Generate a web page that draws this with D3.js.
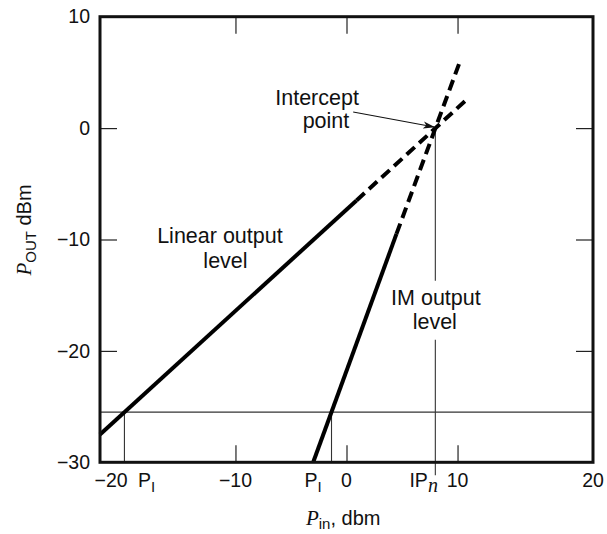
<!DOCTYPE html>
<html>
<head>
<meta charset="utf-8">
<script src="https://cdn.jsdelivr.net/npm/d3@7"></script>
<style>
  body { margin: 0; background: #fff; }
  text { font-family: "Liberation Sans", Arial, sans-serif; fill: #111; }
  .tick-label { font-size: 19.5px; }
  .note { font-size: 21.5px; }
  .ital { font-family: "Liberation Serif", "Times New Roman", serif; font-style: italic; }
</style>
</head>
<body>
<div id="chart"></div>
<script>
// chart values (dBm)
const xDomain = [-22.2, 22.2];
const yDomain = [-30, 10];
const yTicks = [10, 0, -10, -20, -30];
const yInnerTicks = [0, -10, -20];
const xInnerTicks = [-10, 0, 10];
const xTickLabels = ["\u221220", "\u221210", "0", "10", "20"];
const xTickLabelAt = [-21.2, -10, 0, 10, 22.2];

// linear output level (slope ~0.9), solid then dashed extrapolation
const linearSolidX = [-22.2, 0.9];
const linearSolidY = [-27.5, -6.5];
const linearDashX = [0.9, 10.75];
const linearDashY = [-6.5, 2.5];

// IM output level (slope ~2.7)
const imSolidX = [-3.0, 4.5];
const imSolidY = [-30, -9.5];
const imDashX = [4.5, 10.15];
const imDashY = [-9.5, 5.8];

const refLevel = -25.5;      // horizontal reference line
const piLinear = -20;        // P_I where linear line meets reference
const piIM = -1.35;          // P_I where IM line meets reference
const ipN = 8;               // intercept point input
const ipOut = 0;             // intercept point output

// set the dimensions and margins of the graph
const margin = {top: 16.7, right: 14, bottom: 71.7, left: 100},
    width = 607 - margin.left - margin.right,
    height = 534 - margin.top - margin.bottom;

const svg = d3.select("#chart")
  .append("svg")
    .attr("width", width + margin.left + margin.right)
    .attr("height", height + margin.top + margin.bottom)
  .append("g")
    .attr("transform", `translate(${margin.left},${margin.top})`);

const x = d3.scaleLinear().domain(xDomain).range([0, width]);
const y = d3.scaleLinear().domain(yDomain).range([height, 0]);

// arrow marker
svg.append("defs").append("marker")
    .attr("id", "arrow")
    .attr("viewBox", "0 -5 12 10")
    .attr("refX", 11)
    .attr("refY", 0)
    .attr("markerWidth", 12)
    .attr("markerHeight", 10)
    .attr("markerUnits", "userSpaceOnUse")
    .attr("orient", "auto")
  .append("path")
    .attr("d", "M0,-3.5L12,0L0,3.5L3,0Z")
    .attr("fill", "#111");

// inner tick marks
function inner(g) {
  g.select(".domain").remove();
  g.selectAll(".tick line").attr("stroke", "#222").attr("stroke-width", 1.2);
  g.selectAll(".tick text").remove();
}
svg.append("g").attr("transform", `translate(0,${height})`)
  .call(d3.axisBottom(x).tickValues(xInnerTicks).tickSize(-17)).call(inner);
svg.append("g")
  .call(d3.axisTop(x).tickValues(xInnerTicks).tickSize(-17)).call(inner);
svg.append("g")
  .call(d3.axisLeft(y).tickValues(yInnerTicks).tickSize(-17)).call(inner);
svg.append("g").attr("transform", `translate(${width},0)`)
  .call(d3.axisRight(y).tickValues(yInnerTicks).tickSize(-17)).call(inner);

// y tick labels
const yLab = svg.append("g")
  .call(d3.axisLeft(y).tickValues(yTicks).tickSize(0).tickPadding(10));
yLab.select(".domain").remove();
yLab.selectAll("text").attr("class", "tick-label").attr("font-family", null).attr("font-size", null).attr("fill", null);

// x tick labels
svg.append("g").selectAll("text")
  .data(xTickLabels)
  .join("text")
    .attr("class", "tick-label")
    .attr("x", (d, i) => x(xTickLabelAt[i]))
    .attr("y", height + 25)
    .attr("text-anchor", "middle")
    .text(d => d);

// thin reference lines
const thin = svg.append("g").attr("stroke", "#333").attr("stroke-width", 1.1).attr("fill", "none");
thin.append("line")
  .attr("x1", x(xDomain[0])).attr("x2", x(xDomain[1]))
  .attr("y1", y(refLevel)).attr("y2", y(refLevel));
[piLinear, piIM].forEach(v => {
  thin.append("line")
    .attr("x1", x(v)).attr("x2", x(v))
    .attr("y1", y(refLevel)).attr("y2", y(yDomain[0]));
});
// IP_n drop line, broken for the label
thin.append("line")
  .attr("x1", x(ipN)).attr("x2", x(ipN))
  .attr("y1", y(ipOut)).attr("y2", y(-13.7));
thin.append("line")
  .attr("x1", x(ipN)).attr("x2", x(ipN))
  .attr("y1", y(-19.0)).attr("y2", y(yDomain[0]) + 13);

// power lines
const line = d3.line().x(d => x(d[0])).y(d => y(d[1]));
const zip = (a, b) => a.map((v, i) => [v, b[i]]);
const curves = [
  {pts: zip(linearSolidX, linearSolidY), dash: null},
  {pts: zip(linearDashX, linearDashY), dash: "11,6"},
  {pts: zip(imSolidX, imSolidY), dash: null},
  {pts: zip(imDashX, imDashY), dash: "11,6"}
];
svg.selectAll(".pl")
  .data(curves)
  .join("path")
    .attr("class", "pl")
    .attr("d", d => line(d.pts))
    .attr("fill", "none")
    .attr("stroke", "#000")
    .attr("stroke-width", 4)
    .attr("stroke-dasharray", d => d.dash);

// frame
svg.append("rect")
  .attr("width", width).attr("height", height)
  .attr("fill", "none").attr("stroke", "#111").attr("stroke-width", 3);

// annotations
function note(t, vx, vy) {
  svg.append("text").attr("class", "note")
    .attr("x", x(vx)).attr("y", y(vy))
    .attr("text-anchor", "middle").text(t);
}
note("Intercept", -2.65, 2.07);
note("point", -1.85, 0);
note("Linear output", -11.4, -10.33);
note("level", -10.9, -12.6);
note("IM output", 8.05, -15.9);
note("level", 7.95, -18.0);

svg.append("line")
  .attr("x1", x(0.6)).attr("y1", y(1.45))
  .attr("x2", x(7.9)).attr("y2", y(0.1))
  .attr("stroke", "#111").attr("stroke-width", 1.1)
  .attr("marker-end", "url(#arrow)");

// P_I and IP_n labels on the x axis
function sub(g, main, s, subItalic) {
  g.append("tspan").text(main);
  g.append("tspan").attr("dy", 5).attr("font-size", subItalic ? "20px" : "15px")
    .attr("class", subItalic ? "ital" : null).text(s);
}
const p1 = svg.append("text").attr("class", "tick-label").attr("x", x(-18.0)).attr("y", height + 25).attr("text-anchor", "middle");
sub(p1, "P", "I", false);
const p2 = svg.append("text").attr("class", "tick-label").attr("x", x(-3.0)).attr("y", height + 25).attr("text-anchor", "middle");
sub(p2, "P", "I", false);
const p3 = svg.append("text").attr("class", "tick-label").attr("x", x(6.95)).attr("y", height + 25).attr("text-anchor", "middle");
sub(p3, "IP", "n", true);

// axis titles
const xt = svg.append("text")
  .attr("x", x(-0.3)).attr("y", height + 63)
  .attr("text-anchor", "middle").attr("font-size", "20px");
xt.append("tspan").attr("class", "ital").attr("font-size", "21px").text("P");
xt.append("tspan").attr("dy", 4).attr("font-size", "15px").text("in");
xt.append("tspan").attr("dy", -4).text(", dbm");

const yt = svg.append("text")
  .attr("transform", "rotate(-90)")
  .attr("x", -(230 - margin.top)).attr("y", 31 - margin.left)
  .attr("text-anchor", "middle").attr("font-size", "20px");
yt.append("tspan").attr("class", "ital").attr("font-size", "21px").text("P");
yt.append("tspan").attr("dy", 5).attr("font-size", "15px").text("OUT");
yt.append("tspan").attr("dy", -5).text(" dBm");
</script>
</body>
</html>
